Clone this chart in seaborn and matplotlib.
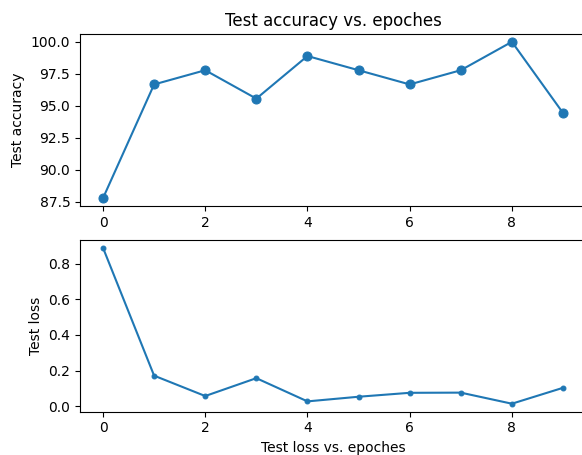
import matplotlib
matplotlib.use('Agg')
import pandas as pd
import matplotlib.pyplot as plt
import seaborn as sns

plt.rcParams['font.family'] = ['DejaVu Sans']

# Raw data
epochs = [0, 1, 2, 3, 4, 5, 6, 7, 8, 9]
test_accuracy = [87.78, 96.67, 97.78, 95.56, 98.89, 97.78, 96.67, 97.78, 100.0, 94.44]
test_loss = [0.888, 0.172, 0.058, 0.158, 0.028, 0.054, 0.076, 0.077, 0.015, 0.104]

df = pd.DataFrame({'epoch': epochs, 'acc': test_accuracy, 'loss': test_loss})
line_color = '#1f77b4'

fig = plt.figure(figsize=(5.82, 4.55), dpi=100)
# axes run slightly past the right edge, as in the cropped original
ax1 = fig.add_axes([80 / 582, 1 - 206 / 455, 506 / 582, 172 / 455])
ax2 = fig.add_axes([80 / 582, 1 - 411.5 / 455, 506 / 582, 171.5 / 455])

sns.lineplot(data=df, x='epoch', y='acc', marker='o', markersize=6.5,
             markeredgecolor=line_color, markeredgewidth=0.75,
             color=line_color, ax=ax1)
ax1.set_title('Test accuracy vs. epoches', fontsize=12)
ax1.set_ylabel('Test accuracy')
ax1.set_xlabel('')

sns.lineplot(data=df, x='epoch', y='loss', marker='.', markersize=7,
             markeredgecolor=line_color, markeredgewidth=0.75,
             color=line_color, ax=ax2)
ax2.set_ylabel('Test loss')
ax2.set_xlabel('Test loss vs. epoches')

for ax in (ax1, ax2):
    ax.set_xticks([0, 2, 4, 6, 8])

fig.savefig('out.png', dpi=100)
plt.close(fig)
